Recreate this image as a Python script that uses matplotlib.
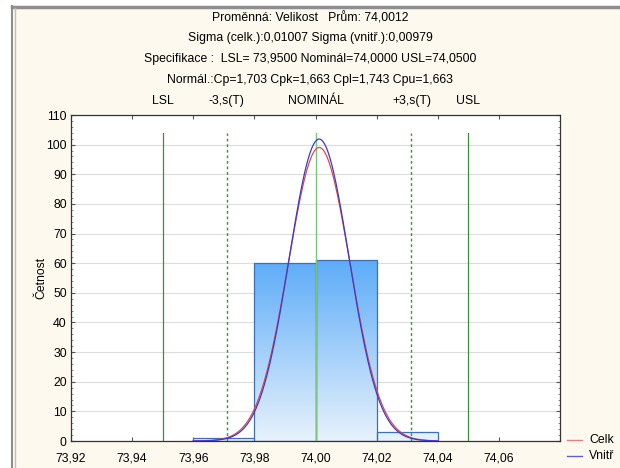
import numpy as np
import matplotlib
matplotlib.use("Agg")
import matplotlib.pyplot as plt
from matplotlib.lines import Line2D
from matplotlib.patches import Rectangle
import matplotlib.transforms as mtransforms

plt.rcParams['font.family'] = ['Liberation Sans', 'DejaVu Sans']

# ---- data ----
bin_edges = [73.96, 73.98, 74.00, 74.02, 74.04]
counts = [1, 60, 61, 3]
mean = 74.0012
sigma_total = 0.01007
sigma_within = 0.00979
LSL, NOMINAL, USL = 73.95, 74.00, 74.05
title_lines = [
    "Proměnná: Velikost   Prům: 74,0012",
    "Sigma (celk.):0,01007 Sigma (vnitř.):0,00979",
    "Specifikace :  LSL= 73,9500 Nominál=74,0000 USL=74,0500",
    "Normál.:Cp=1,703 Cpk=1,663 Cpl=1,743 Cpu=1,663",
]
xticks = [73.92, 73.94, 73.96, 73.98, 74.00, 74.02, 74.04, 74.06]
xtick_labels = ["73,92", "73,94", "73,96", "73,98", "74,00", "74,02", "74,04", "74,06"]
yticks = [0, 10, 20, 30, 40, 50, 60, 70, 80, 90, 100, 110]
legend_labels = ["Celk", "Vnitř"]

W, H = 620, 468
fig = plt.figure(figsize=(W / 100, H / 100), dpi=100)
fig.patch.set_facecolor('#FEF9EE')

# white strip at the left and top, gray border
fig.add_artist(Rectangle((0, 0), 12 / W, 1, transform=fig.transFigure,
                         facecolor='white', edgecolor='none', zorder=-5))
fig.add_artist(Rectangle((0, 1 - 6 / H), 1, 6 / H, transform=fig.transFigure,
                         facecolor='white', edgecolor='none', zorder=-5))
fig.add_artist(Line2D([12 / W, 1], [1 - 7 / H] * 2, color='#8E8E8E', lw=2.5,
                      transform=fig.transFigure, zorder=-4))
fig.add_artist(Line2D([12 / W] * 2, [0, 1 - 6 / H], color='#8E8E8E', lw=1.5,
                      transform=fig.transFigure, zorder=-4))
fig.add_artist(Line2D([15 / W] * 2, [0, 1 - 8 / H], color='#BDBDBD', lw=1.0,
                      transform=fig.transFigure, zorder=-4))

left, right, top, bottom = 71, 560, 115, 441
ax = fig.add_axes([left / W, 1 - bottom / H, (right - left) / W, (bottom - top) / H])
ax.set_zorder(1)
ax.set_facecolor('white')
ax.set_xlim(73.92, 74.08)
ax.set_ylim(0, 110)
ax.set_xticks(xticks)
ax.set_xticklabels(xtick_labels, fontsize=8.8)
ax.set_yticks(yticks)
ax.set_yticklabels([str(v) for v in yticks], fontsize=8.8)
ax.set_yticks(np.arange(0, 111, 2), minor=True)
ax.tick_params(axis='both', which='major', direction='in', length=3, top=True, right=True,
               color='#555555')
ax.tick_params(axis='x', which='major', pad=8)
ax.tick_params(axis='y', which='major', pad=3)
ax.tick_params(axis='y', which='minor', direction='in', length=1.5, left=True, right=True, color='#777777')
ax.tick_params(axis='x', which='minor', bottom=False, top=False)
ax.grid(axis='y', color='#DDDDDD', lw=0.8)
ax.set_axisbelow(True)
for s in ax.spines.values():
    s.set_color('#333333')
    s.set_linewidth(0.9)
ax.set_ylabel("Četnost", fontsize=8.8)
ax.yaxis.set_label_coords(-0.049, 0.5)

# histogram bars with vertical gradient
grad = np.linspace(0, 1, 256).reshape(-1, 1)
cmap = matplotlib.colors.LinearSegmentedColormap.from_list('g', ['#E8F2FC', '#5DACF8'])
for i, c in enumerate(counts):
    x0, x1 = bin_edges[i], bin_edges[i + 1]
    rect = Rectangle((x0, 0), x1 - x0, c, facecolor='none', edgecolor='#3F6FB5', lw=0.9, zorder=3)
    ax.add_patch(rect)
    im = ax.imshow(grad, extent=[bin_edges[0], bin_edges[-1], 0, 61], origin='lower', cmap=cmap,
                   aspect='auto', zorder=2, interpolation='bilinear')
    im.set_clip_path(rect)
ax.set_xlim(73.92, 74.08)
ax.set_ylim(0, 110)

# spec / sigma lines
line_top = 104
ax.plot([LSL, LSL], [0, line_top], color='#3A913A', lw=0.9, zorder=4)
ax.plot([USL, USL], [0, line_top], color='#3A913A', lw=0.9, zorder=4)
ax.plot([NOMINAL, NOMINAL], [0, line_top], color='#7CC47C', lw=1.0, zorder=4)
lo3 = mean - 3 * sigma_total
hi3 = mean + 3 * sigma_total
ax.plot([lo3, lo3], [0, line_top], color='#22A022', lw=1.0, ls=(0, (2, 2)), zorder=4)
ax.plot([hi3, hi3], [0, line_top], color='#22A022', lw=1.0, ls=(0, (2, 2)), zorder=4)

# fitted normal curves
n = sum(counts)
bw = bin_edges[1] - bin_edges[0]
xs = np.linspace(bin_edges[0], bin_edges[-1], 400)
def normal(x, m, s):
    return n * bw / (s * np.sqrt(2 * np.pi)) * np.exp(-0.5 * ((x - m) / s) ** 2)
ax.plot(xs, normal(xs, mean, sigma_total), color='#E04848', lw=0.9, zorder=5)
ax.plot(xs, normal(xs, mean, sigma_within), color='#3A3AD0', lw=0.9, zorder=5)

# titles
for i, t in enumerate(title_lines):
    fig.text(0.5, 1 - (18 + 20.5 * i) / H, t, ha='center', va='center', fontsize=8.8)
blend = mtransforms.blended_transform_factory(ax.transData, fig.transFigure)
for xv, lab in [(LSL, "LSL"), (lo3, "-3,s(T)"), (NOMINAL, "NOMINÁL"), (hi3, "+3,s(T)"), (USL, "USL")]:
    fig.text(xv, 1 - 101 / H, lab, transform=blend, ha='center', va='center', fontsize=8.8)

# legend (clipped at right edge)
for yy, col, lab in [(440, '#E08080', legend_labels[0]), (456, '#6060C8', legend_labels[1])]:
    fig.add_artist(Line2D([567 / W, 582 / W], [1 - yy / H] * 2, color=col, lw=1.0, transform=fig.transFigure))
    fig.text(589 / W, 1 - yy / H, lab, ha='left', va='center', fontsize=8.8)

fig.savefig("out.png", dpi=100)
